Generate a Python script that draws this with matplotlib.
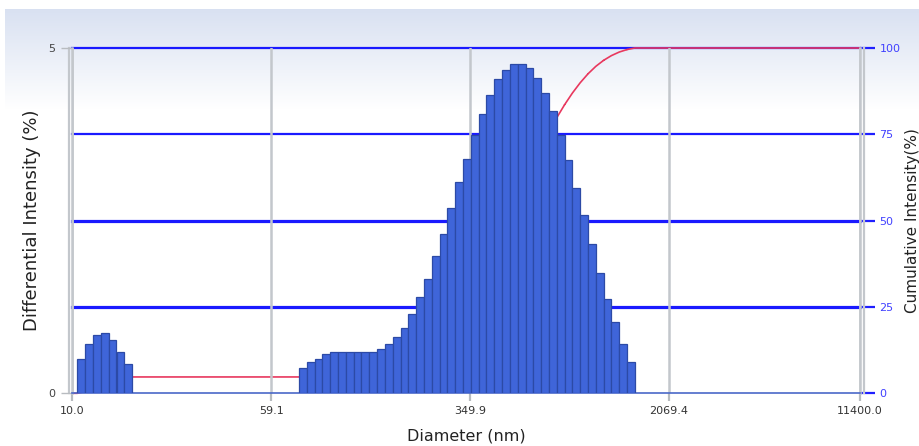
"""Particle size distribution: differential + cumulative intensity."""
import numpy as np
import matplotlib
matplotlib.use('Agg')
import matplotlib.pyplot as plt
from matplotlib.transforms import offset_copy

# bin centre diameters (nm), small-particle group then main group
diameters = [
    10.83, 11.61, 12.46, 13.36, 14.33, 15.38, 16.50,
    78.50, 84.17, 90.26, 96.78, 103.78, 111.28, 119.33, 127.95, 137.20,
    147.12, 157.76, 169.16, 181.39, 194.50, 208.56, 223.64, 239.81, 257.15,
    275.74, 295.67, 317.05, 339.97, 364.55, 390.90, 419.16, 449.46, 481.96,
    516.80, 554.16, 594.22, 637.18, 683.25, 732.64, 785.61, 842.40, 903.30,
    968.61, 1038.6, 1113.7, 1194.2, 1280.6, 1373.2, 1472.4,
]
# differential intensity (%)
intensity = [
    0.50, 0.71, 0.84, 0.87, 0.77, 0.60, 0.43,
    0.372, 0.449, 0.502, 0.569, 0.603, 0.603, 0.603, 0.603, 0.603,
    0.603, 0.647, 0.719, 0.820, 0.946, 1.144, 1.390, 1.660, 1.988,
    2.307, 2.683, 3.055, 3.398, 3.740, 4.049, 4.320, 4.546, 4.686,
    4.763, 4.763, 4.715, 4.570, 4.344, 4.093, 3.740, 3.374, 2.978,
    2.577, 2.162, 1.737, 1.366, 1.028, 0.719, 0.449,
]

x_ticks = [10.0, 59.1, 349.9, 2069.4, 11400.0]
x_tick_labels = ['10.0', '59.1', '349.9', '2069.4', '11400.0']
left_ticks = [0, 5]
right_ticks = [0, 25, 50, 75, 100]

d = np.array(diameters)
h = np.array(intensity)
ratio = (d[-1] / d[7]) ** (1 / 42)
left_edges = d / np.sqrt(ratio)
right_edges = d * np.sqrt(ratio)

cum = np.cumsum(h) / h.sum() * 100
cum_x = [x_ticks[0], left_edges[0]]
cum_y = [0, 0]
prev = 0
for le, re, c in zip(left_edges, right_edges, cum):
    cum_x += [le, re]
    cum_y += [prev, c]
    prev = c
cum_x.append(x_ticks[-1])
cum_y.append(100)

W, H = 919, 446
fig = plt.figure(figsize=(W / 100, H / 100), dpi=100)
fig.patch.set_facecolor('white')

# panel background: light blue gradient fading to white
bg = fig.add_axes([0, 0, 1, 1], zorder=-10)
bg.axis('off')
rows = np.arange(H)
t = np.clip((rows - 9) / 100.0, 0, 1)
top = np.array([0.850, 0.882, 0.947])
grad = top[None, :] * (1 - t[:, None]) + np.ones(3)[None, :] * t[:, None]
img = np.repeat(grad[:, None, :], W, axis=1)
img[:9, :, :] = 1
img[:, :5, :] = 1
bg.imshow(img, aspect='auto', extent=[0, 1, 0, 1], interpolation='bilinear')
bg.set_xlim(0, 1)
bg.set_ylim(0, 1)

ax = fig.add_axes([72.3 / W, 52.7 / H, (860 - 72.3) / W, (393.3 - 48) / H])
ax2 = ax.twinx()
ax.set_zorder(ax2.get_zorder() + 1)
ax.patch.set_visible(False)
ax2.patch.set_visible(False)

ax.set_xscale('log')
ax.set_xlim(x_ticks[0], x_ticks[-1])
ax.set_ylim(0, 5)
ax2.set_ylim(0, 100)

# grid lines (behind everything)
for v, lw in zip(right_ticks[1:], [2.3, 2.3, 1.6, 1.6]):
    ax2.axhline(v, color='#1a1aff', lw=lw, zorder=1, clip_on=False)
ax2.plot(cum_x, cum_y, color='#e8385e', lw=1.2, zorder=2, clip_on=False)
for v in x_ticks:
    ax2.axvline(v, color='#c3c7cc', lw=1.8, zorder=3)
# doubled frame lines at both ends of the x range
gray_l = offset_copy(ax2.get_xaxis_transform(), fig=fig, x=-3.5, units='dots')
gray_r = offset_copy(ax2.get_xaxis_transform(), fig=fig, x=4, units='dots')
ax2.plot([x_ticks[0]] * 2, [0, 1], transform=gray_l, color='#c3c7cc',
         lw=1.6, zorder=3, clip_on=False)
ax2.plot([x_ticks[-1]] * 2, [0, 1], transform=gray_r, color='#c3c7cc',
         lw=1.6, zorder=3, clip_on=False)

ax.bar(left_edges, h, width=right_edges - left_edges, align='edge',
       color='#3f65d9', edgecolor='#2c4aa6', linewidth=0.9, zorder=3)

ax.set_xticks(x_ticks)
ax.set_xticklabels(x_tick_labels)
ax.xaxis.set_minor_locator(matplotlib.ticker.NullLocator())
ax.tick_params(axis='x', length=6, width=1.6, color='#b8bcc0', pad=3,
               labelsize=8, labelcolor='#333333')
ax.set_yticks(left_ticks)
ax.set_yticklabels([str(v) for v in left_ticks])
ax.tick_params(axis='y', length=8, width=1, color='#b8bcc0', pad=4,
               labelsize=8, labelcolor='#444444')
ax2.set_yticks(right_ticks)
ax2.set_yticklabels([str(v) for v in right_ticks])
ax2.tick_params(axis='y', length=11, width=1.6, color='#2020ff', pad=3,
                labelsize=8, labelcolor='#4040ff')

ax.spines['top'].set_visible(False)
for sp in ax2.spines.values():
    sp.set_visible(False)
ax.spines['left'].set_color('#c3c7cc')
ax.spines['left'].set_linewidth(1.8)
ax.spines['right'].set_color('#c3c7cc')
ax.spines['right'].set_linewidth(1.8)
ax.spines['bottom'].set_color('#4a68c8')
ax.spines['bottom'].set_linewidth(1.2)

fig.text(0.035, 0.507, 'Differential Intensity (%)', rotation=90,
         ha='center', va='center', fontsize=13, color='#222222')
fig.text(0.993, 0.505, 'Cumulative Intensity(%)', rotation=90,
         ha='center', va='center', fontsize=11, color='#222222')
fig.text(0.507, 0.022, 'Diameter (nm)', ha='center', va='center',
         fontsize=11.5, color='#222222')

fig.savefig('out.png', dpi=100)
